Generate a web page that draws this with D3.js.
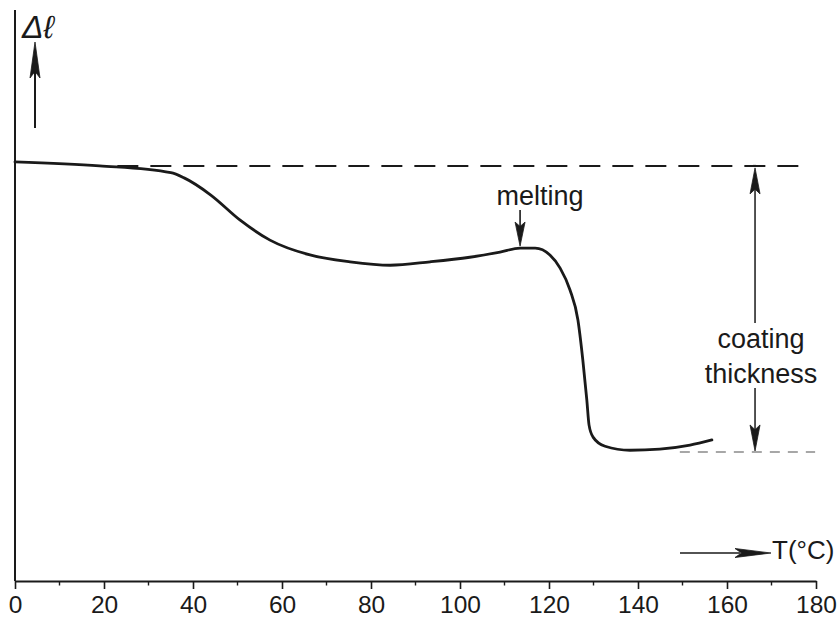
<!DOCTYPE html>
<html>
<head>
<meta charset="utf-8">
<script src="https://cdn.jsdelivr.net/npm/d3@7"></script>
<style>
  body { margin: 0; background: #fff; }
  svg { display: block; }
  text { font-family: "Liberation Sans", Arial, Helvetica, sans-serif; fill: #1a1a1a; }
</style>
</head>
<body>
<div id="chart"></div>
<script>
// dilatometer curve: Δl (arbitrary units) vs temperature
const temperature = [0, 19, 35, 38, 44, 50.6, 57.3, 66.3, 75.3, 84.3, 93.3, 102.2, 109, 113.5, 116.9, 120.2, 122.5, 124.7, 126.5, 127.6, 128.5, 129, 129.9, 132.6, 138.2, 144.9, 151.7, 156.6];
const deltaL      = [73.4, 72.7, 71.5, 70.6, 67.6, 63.2, 59.7, 57.1, 55.9, 55.3, 55.9, 56.7, 57.6, 58.3, 58.3, 57.1, 54.8, 51.0, 45.7, 38.7, 31.7, 27.3, 25.2, 23.6, 22.9, 23.1, 23.8, 24.7];

const majorTicks = [0, 20, 40, 60, 80, 100, 120, 140, 160, 180];
const minorTicks = [10, 30, 50, 70, 90, 110, 130, 150, 170];

const levelTop = 72.7;      // initial length (upper dashed line)
const levelBottom = 22.6;   // final length (lower dashed line)
const meltingT = 113.5;
const thicknessT = 166.3;

const width = 839, height = 619;
const ink = '#1a1a1a';
const labelSize = 27;

const svg = d3.select('#chart').append('svg')
    .attr('width', width)
    .attr('height', height);

const x = d3.scaleLinear().domain([0, 180]).range([15, 816]);
const y = d3.scaleLinear().domain([0, 100]).range([581, 10]);

// arrowhead: narrow filled spike with a notched base
function arrowHead(g, tipX, tipY, angle, len, half) {
    const notch = len * 0.18;
    const pts = [[0, 0], [-len, -half], [-len + notch, 0], [-len, half]];
    g.append('path')
        .attr('d', 'M' + pts.map(p => p.join(',')).join('L') + 'Z')
        .attr('transform', `translate(${tipX},${tipY}) rotate(${angle})`)
        .attr('fill', ink)
        .attr('stroke', ink)
        .attr('stroke-width', 0.8)
        .attr('stroke-linejoin', 'miter');
}

// y axis (no ticks)
svg.append('line')
    .attr('x1', x(0)).attr('x2', x(0))
    .attr('y1', 10).attr('y2', y(0))
    .attr('stroke', ink).attr('stroke-width', 2);

// x axis
const xAxis = svg.append('g')
    .attr('transform', `translate(0,${y(0)})`)
    .call(d3.axisBottom(x).tickValues(majorTicks).tickSize(8).tickSizeOuter(0).tickPadding(7));
xAxis.select('.domain').attr('stroke', ink).attr('stroke-width', 2);
xAxis.selectAll('.tick line').attr('stroke', ink).attr('stroke-width', 1.6);
xAxis.selectAll('.tick text')
    .attr('font-size', 24.5)
    .attr('font-family', '"Liberation Sans", Arial, sans-serif')
    .attr('fill', ink);

svg.append('g')
    .selectAll('line')
    .data(minorTicks)
    .join('line')
    .attr('x1', d => x(d)).attr('x2', d => x(d))
    .attr('y1', y(0)).attr('y2', y(0) + 4.5)
    .attr('stroke', ink).attr('stroke-width', 1.4);

// dashed reference levels
svg.append('line')
    .attr('x1', x(23)).attr('x2', x(178.6))
    .attr('y1', y(levelTop)).attr('y2', y(levelTop))
    .attr('stroke', ink).attr('stroke-width', 2)
    .attr('stroke-dasharray', '21 12');

svg.append('line')
    .attr('x1', x(149.4)).attr('x2', x(179.8))
    .attr('y1', y(levelBottom)).attr('y2', y(levelBottom))
    .attr('stroke', '#8a8a8a').attr('stroke-width', 1.6)
    .attr('stroke-dasharray', '10 8');

// curve
const pts = temperature.map((t, i) => [t, deltaL[i]]);
svg.append('path')
    .datum(pts)
    .attr('fill', 'none')
    .attr('stroke', ink)
    .attr('stroke-width', 2.8)
    .attr('stroke-linecap', 'round')
    .attr('d', d3.line().x(d => x(d[0])).y(d => y(d[1])).curve(d3.curveMonotoneX));

// Δl label with upward arrow
svg.append('text')
    .attr('x', 22).attr('y', 38)
    .attr('font-family', '"DejaVu Serif", serif')
    .attr('font-style', 'italic')
    .attr('font-size', 32)
    .text('Δℓ');
svg.append('line')
    .attr('x1', 35).attr('x2', 35)
    .attr('y1', 128).attr('y2', 64)
    .attr('stroke', ink).attr('stroke-width', 2);
arrowHead(svg, 35, 42, -90, 36, 5);

// melting annotation
svg.append('text')
    .attr('x', x(meltingT) + 20).attr('y', 205)
    .attr('text-anchor', 'middle')
    .attr('font-size', labelSize)
    .text('melting');
svg.append('line')
    .attr('x1', x(meltingT)).attr('x2', x(meltingT))
    .attr('y1', 210).attr('y2', 230)
    .attr('stroke', ink).attr('stroke-width', 1.6);
arrowHead(svg, x(meltingT), y(58.3) - 2, 90, 24, 5);

// coating thickness double arrow
const tx = x(thicknessT);
svg.append('line')
    .attr('x1', tx).attr('x2', tx)
    .attr('y1', y(levelTop) + 20).attr('y2', 323)
    .attr('stroke', ink).attr('stroke-width', 1.5);
svg.append('line')
    .attr('x1', tx).attr('x2', tx)
    .attr('y1', 388).attr('y2', y(levelBottom) - 20)
    .attr('stroke', ink).attr('stroke-width', 1.5);
arrowHead(svg, tx, y(levelTop) + 2, -90, 26, 5);
arrowHead(svg, tx, y(levelBottom) - 1, 90, 26, 5);
svg.append('line')
    .attr('x1', tx - 2).attr('x2', tx + 1)
    .attr('y1', y(levelTop)).attr('y2', y(levelTop))
    .attr('stroke', ink).attr('stroke-width', 2);

svg.append('text')
    .attr('x', tx + 6).attr('y', 348)
    .attr('text-anchor', 'middle')
    .attr('font-size', labelSize)
    .text('coating');
svg.append('text')
    .attr('x', tx + 6).attr('y', 383)
    .attr('text-anchor', 'middle')
    .attr('font-size', labelSize)
    .text('thickness');

// T(°C) label with arrow
svg.append('line')
    .attr('x1', 680).attr('x2', 740)
    .attr('y1', 553).attr('y2', 553)
    .attr('stroke', ink).attr('stroke-width', 1.6);
arrowHead(svg, 771, 553, 0, 36, 4.5);
svg.append('text')
    .attr('x', 772).attr('y', 559)
    .attr('font-size', 26)
    .text('T(°C)');
</script>
</body>
</html>
